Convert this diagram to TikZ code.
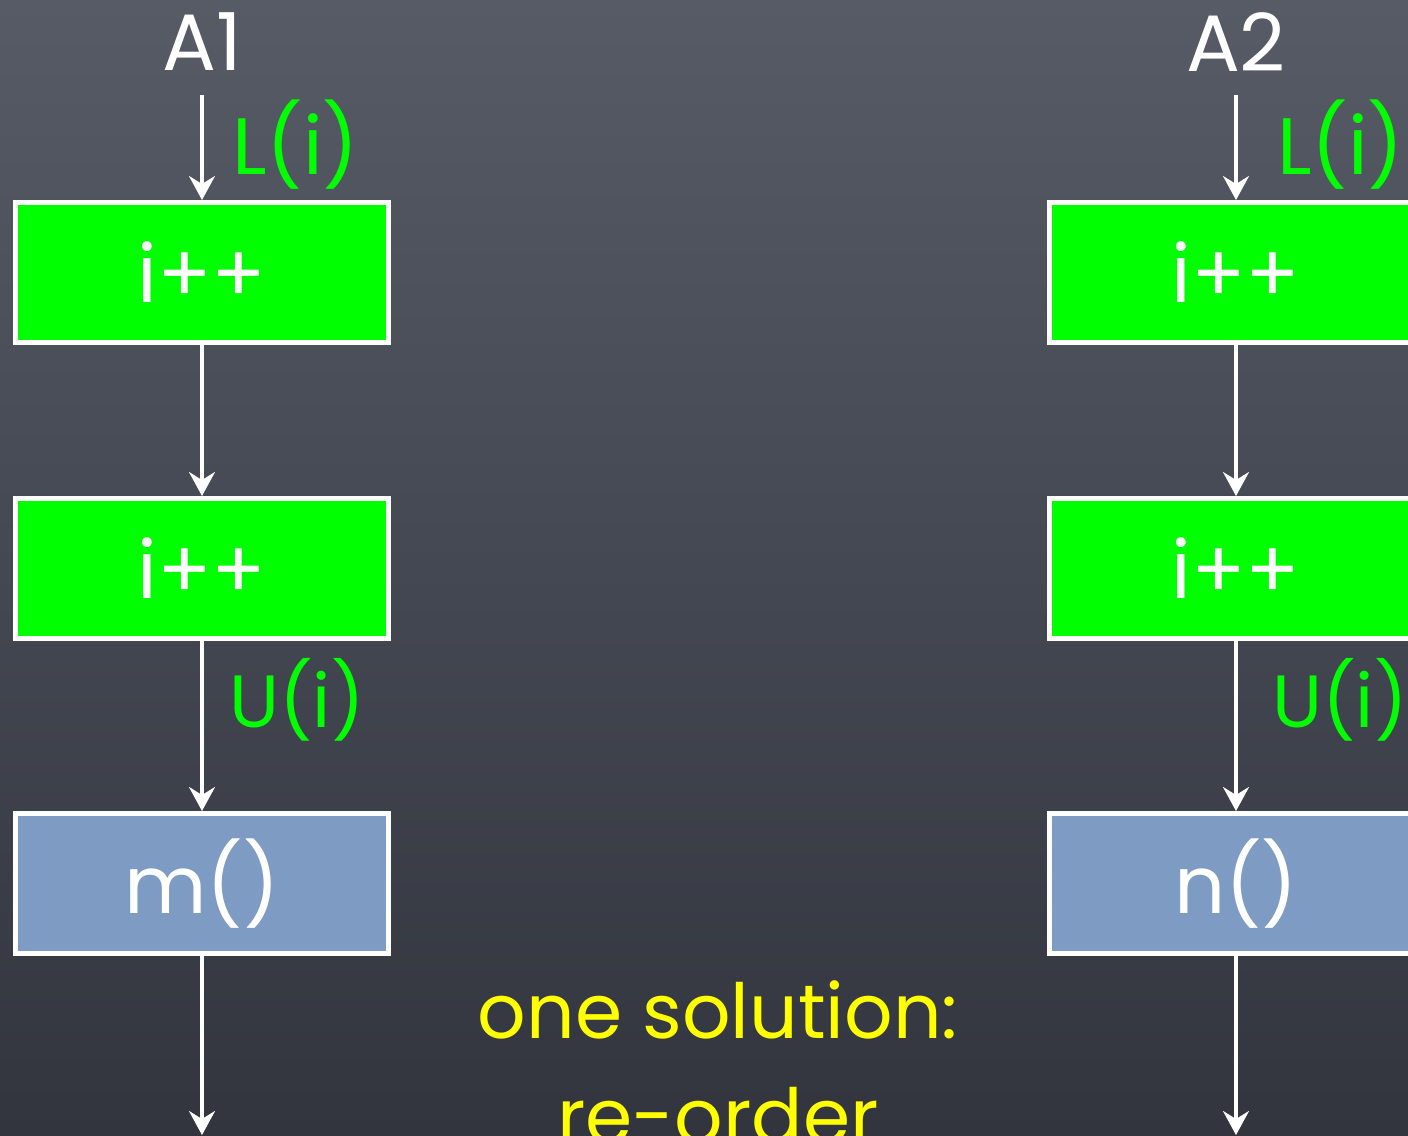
\documentclass[tikz,border=0pt]{standalone}
\usepackage{fontspec}
\setmainfont{Poppins}
\usepackage{tikz}
\usetikzlibrary{arrows.meta, positioning}
\usepackage{xcolor}
\definecolor{boardtop}{RGB}{86,91,102}
\definecolor{boardbot}{RGB}{50,53,62}
\definecolor{lockgreen}{RGB}{0,255,0}
\definecolor{callblue}{RGB}{126,155,196}
\definecolor{chalkyellow}{RGB}{255,255,0}

\begin{document}
\begin{tikzpicture}[x=0.5pt, y=-0.5pt,
		chalk/.style={font=\fontsize{40}{40}\selectfont},
		stepbox/.style={chalk, draw=white, line width=2.5pt, text=white,
			minimum width=186.5pt, minimum height=70pt, inner sep=0pt},
		incbox/.style={stepbox, fill=lockgreen},
		callbox/.style={stepbox, fill=callblue},
		flow/.style={draw=white, line width=1.7pt,
			-{Stealth[length=12pt, width=13pt, inset=4pt]}},
		lock/.style={chalk, text=lockgreen, anchor=west, inner sep=0pt}]
	\useasboundingbox (0,0) rectangle (1408,1135);
	\clip (0,0) rectangle (1408,1135);
	\shade[top color=boardtop, bottom color=boardbot] (0,0) rectangle (1408,1135);

	% thread A1
	\node[chalk, text=white] (a1) at (202, 42) {A1};
	\coordinate (a1top) at (202, 95);
	\node[incbox] (a1inc1) at (202, 272.5) {i++};
	\node[incbox] (a1inc2) at (202, 568.5) {i++};
	\node[callbox] (a1call) at (202, 883.5) {m()};
	\coordinate (a1end) at (202, 1135);
	\draw[flow] (a1top) -- (a1inc1);
	\draw[flow] (a1inc1) -- (a1inc2);
	\draw[flow] (a1inc2) -- (a1call);
	\draw[flow] (a1call) -- (a1end);
	\node[lock] (a1lock) at (232, 145) {L(i)};
	\node[lock, font=\fontsize{37}{37}\selectfont] (a1unlock) at (229, 700) {U(i)};

	% thread A2
	\node[chalk, text=white] (a2) at (1236, 42) {A2};
	\coordinate (a2top) at (1236, 95);
	\node[incbox] (a2inc1) at (1236, 272.5) {i++};
	\node[incbox] (a2inc2) at (1236, 568.5) {i++};
	\node[callbox] (a2call) at (1236, 883.5) {n()};
	\coordinate (a2end) at (1236, 1135);
	\draw[flow] (a2top) -- (a2inc1);
	\draw[flow] (a2inc1) -- (a2inc2);
	\draw[flow] (a2inc2) -- (a2call);
	\draw[flow] (a2call) -- (a2end);
	\node[lock] (a2lock) at (1277, 145) {L(i)};
	\node[lock, font=\fontsize{37}{37}\selectfont] (a2unlock) at (1272, 700) {U(i)};

	% remark
	\node[chalk, text=chalkyellow, anchor=base, font=\fontsize{38}{38}\selectfont] (fix1) at (718, 1038) {one solution:};
	\node[chalk, text=chalkyellow, anchor=base, font=\fontsize{38}{38}\selectfont] (fix2) at (718, 1143) {re-order};
\end{tikzpicture}
\end{document}
